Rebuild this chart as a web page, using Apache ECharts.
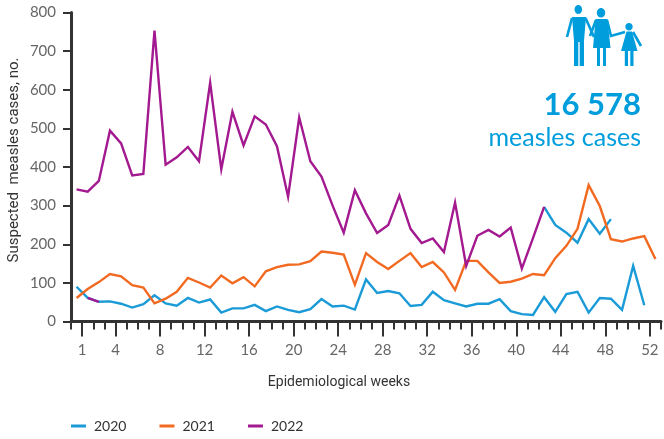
<!DOCTYPE html>
<html>
<head>
<meta charset="utf-8">
<style>
  html, body { margin: 0; padding: 0; background: #fff; }
  #chart { width: 664px; height: 439px; }
</style>
<script src="https://cdn.jsdelivr.net/npm/echarts@6/dist/echarts.min.js"></script>
</head>
<body>
<div id="chart"></div>
<script>
const tickLabels = [1, 4, 8, 12, 16, 20, 24, 28, 32, 36, 40, 44, 48, 52]

// one value per epidemiological week
const cases2020 = [90, 61, 51, 52, 46, 36, 45, 68, 47, 41, 61, 49, 57, 23, 34, 34, 43, 27, 39, 30, 24, 32, 58, 39, 41, 31,
  109, 74, 79, 73, 40, 43, 77, 55, 47, 39, 46, 46, 58, 27, 19, 17, 63, 25, 71, 77, 23, 61, 59, 30, 144, 42]
const cases2021 = [61, 84, 102, 123, 117, 94, 88, 47, 59, 77, 113, 101, 88, 119, 99, 115, 91, 130, 141, 147, 148, 156, 181, 178, 173, 95,
  177, 154, 136, 157, 177, 141, 154, 127, 82, 157, 157, 127, 100, 103, 111, 123, 120, 164, 196, 240, 353, 299, 213, 207, 215, 221, 162]
const cases2022 = [342, 336, 364, 494, 461, 378, 382, 753, 406, 425, 452, 415, 618, 394, 543, 456, 531, 510, 454, 323, 528, 415, 375, 300, 230, 340,
  280, 229, 250, 326, 240, 203, 215, 180, 308, 144, 222, 237, 220, 243, 137, 216, 297]
// the end of the upper line is printed blue in the original
const cases2022Tail = [297, 250, 230, 204, 265, 227, 265]
const tailStartWeek = 43
// short stretch of the low line that is printed purple in the original
const cases2020Purple = [61, 51]
const purpleStartWeek = 2

const BLUE = '#1a9bd7'
const ORANGE = '#f26a21'
const PURPLE = '#a3198f'
const AXIS = '#333333'

// each week's point sits in the middle of its slot, between two ticks
const toPoints = (vals, startWeek = 1) => vals.map((v, i) => [startWeek + i - 0.5, v])

const line = (name, color, data, z) => ({
  name,
  type: 'line',
  data,
  symbol: 'none',
  z,
  lineStyle: { color, width: 2.4, join: 'miter' },
  itemStyle: { color },
  animation: false
})

const ICON = '#009ddc'
const stroke = (points, width) => ({
  type: 'polyline',
  shape: { points },
  style: { stroke: ICON, lineWidth: width, fill: null }
})
const solid = (points) => ({ type: 'polygon', shape: { points }, style: { fill: ICON } })
const head = (cx, cy, rx, ry) => ({ type: 'ellipse', shape: { cx, cy, rx, ry }, style: { fill: ICON } })

const chart = echarts.init(document.getElementById('chart'))
chart.setOption({
  backgroundColor: '#fff',
  textStyle: { fontFamily: 'Lato, "Noto Sans", sans-serif' },
  grid: { left: 71, right: 3, top: 12.5, bottom: 117.5, outerBoundsMode: 'none' },
  legend: {
    data: ['2020', '2021', '2022'],
    left: 66,
    top: 414,
    icon: 'rect',
    itemWidth: 15,
    itemHeight: 3,
    itemGap: 33,
    textStyle: { color: '#333', fontSize: 14, fontFamily: 'Lato', padding: [0, 0, 0, 3] }
  },
  xAxis: [
    {
      type: 'value',
      min: 0,
      max: 53,
      splitLine: { show: false },
      name: 'Epidemiological weeks',
      nameLocation: 'middle',
      nameGap: 54,
      nameTextStyle: { color: '#333', fontSize: 14, fontFamily: 'Roboto', padding: [0, 54, 0, 0] },
      axisLine: { onZero: false, lineStyle: { color: AXIS, width: 3 } },
      axisTick: { length: 15, lineStyle: { color: AXIS, width: 2 }, customValues: tickLabels },
      axisLabel: { color: '#666', fontSize: 15, fontFamily: 'Lato', margin: 21, customValues: tickLabels }
    },
    {
      type: 'value',
      position: 'bottom',
      min: 0,
      max: 53,
      interval: 1,
      splitLine: { show: false },
      axisLine: { show: false },
      axisTick: { length: 8, lineStyle: { color: AXIS, width: 2 } },
      axisLabel: { show: false }
    }
  ],
  yAxis: {
    type: 'value',
    min: 0,
    max: 800,
    interval: 100,
    name: 'Suspected  measles cases, no.',
    nameLocation: 'middle',
    nameGap: 49,
    nameMoveOverlap: false,
    nameTextStyle: { color: '#333', fontSize: 15, fontFamily: 'Roboto', padding: [0, 0, 0, 14] },
    splitLine: { show: false },
    axisLine: { show: true, lineStyle: { color: AXIS, width: 3 } },
    axisTick: { show: true, length: 8, lineStyle: { color: AXIS, width: 2 } },
    axisLabel: { color: '#666', fontSize: 15, fontFamily: 'Lato', margin: 15 }
  },
  series: [
    line('2020', BLUE, toPoints(cases2020), 2),
    line('2021', ORANGE, toPoints(cases2021), 3),
    line('2022', PURPLE, toPoints(cases2022), 4),
    line('2022 end', BLUE, toPoints(cases2022Tail, tailStartWeek), 2),
    line('2020 part', PURPLE, toPoints(cases2020Purple, purpleStartWeek), 4)
  ],
  graphic: [
    {
      type: 'text',
      right: 23,
      top: 89,
      style: { text: '16 578', fill: ICON, fontSize: 31, fontWeight: 'bold', fontFamily: 'Lato' }
    },
    {
      type: 'text',
      right: 23,
      top: 125,
      style: { text: 'measles cases', fill: ICON, fontSize: 25, fontFamily: 'Lato' }
    },
    // family icon: man
    head(578.3, 9.5, 3.8, 4.5),
    solid([[572, 17], [586, 17], [584, 41], [584, 66], [579.7, 66], [579.7, 42], [578.3, 42], [578.3, 66], [574, 66], [574, 41]]),
    stroke([[572, 18], [567, 37]], 2.6),
    stroke([[585.5, 18], [594, 37]], 2.6),
    // woman
    head(601, 12.7, 4.2, 4.8),
    solid([[595.5, 19], [607.5, 19], [610.5, 48], [606, 48], [606, 66], [603, 66], [603, 48], [600, 48], [600, 66], [597, 66], [597, 48], [593, 48]]),
    stroke([[596, 20], [590, 36]], 2.6),
    stroke([[607, 20], [611, 36], [625, 32]], 2.6),
    // child
    head(629, 26.7, 3.7, 3.7),
    solid([[626.5, 31.5], [632, 31.5], [637.5, 51], [633.5, 51], [633.5, 66], [630.3, 66], [630.3, 51], [628, 51], [628, 66], [624.8, 66], [624.8, 51], [621, 51]]),
    stroke([[633, 32], [641, 46]], 2.6)
  ]
})
</script>
</body>
</html>
